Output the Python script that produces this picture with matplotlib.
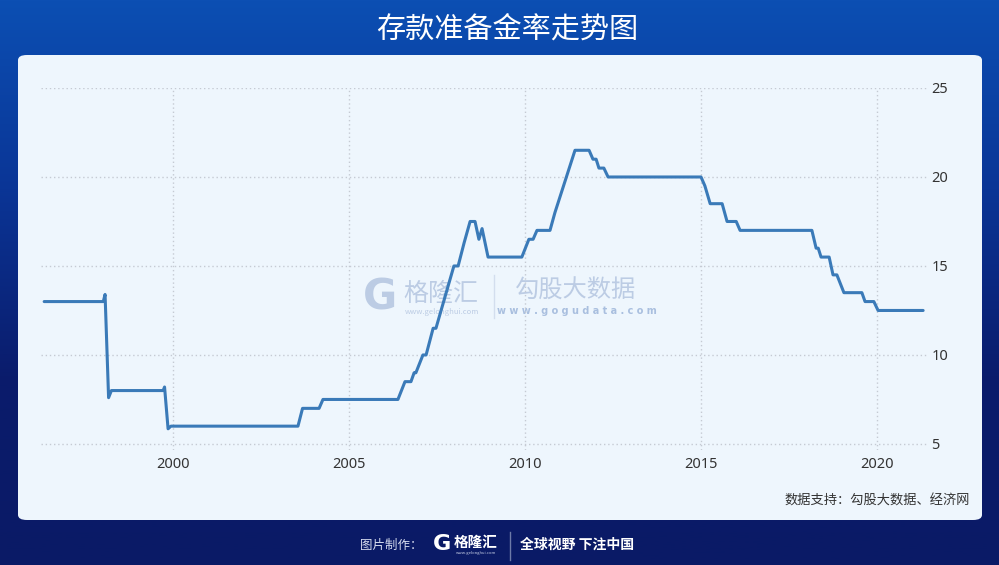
"""存款准备金率走势图"""

import numpy as np
import matplotlib
matplotlib.use("Agg")
import matplotlib.pyplot as plt
from matplotlib.patches import FancyBboxPatch
from matplotlib.colors import LinearSegmentedColormap

plt.rcParams['font.family'] = ['Noto Sans CJK SC', 'DejaVu Sans']

# vertices of the line (year, rate %)
years = [1996.34, 1998.02, 1998.07, 1998.17, 1998.25, 1999.72, 1999.76, 1999.86,
         1999.94, 2003.55, 2003.68, 2004.15, 2004.26, 2006.39, 2006.59, 2006.76,
         2006.85, 2006.90, 2007.10, 2007.19, 2007.39, 2007.47, 2007.98, 2008.10,
         2008.27, 2008.44, 2008.58, 2008.69, 2008.78, 2008.95, 2009.91, 2010.11,
         2010.23, 2010.34, 2010.71, 2010.85, 2011.42, 2011.82, 2011.93, 2012.02,
         2012.10, 2012.24, 2012.36, 2015.00, 2015.11, 2015.26, 2015.60, 2015.74,
         2016.00, 2016.11, 2018.15, 2018.27, 2018.33, 2018.41, 2018.64, 2018.75,
         2018.86, 2019.06, 2019.57, 2019.66, 2019.91, 2020.03, 2021.31]
rates = [13.0, 13.0, 13.4, 7.6, 8.0, 8.0, 8.2, 5.85,
         6.0, 6.0, 7.0, 7.0, 7.5, 7.5, 8.5, 8.5,
         9.0, 9.0, 10.0, 10.0, 11.5, 11.5, 15.0, 15.0,
         16.3, 17.5, 17.5, 16.5, 17.1, 15.5, 15.5, 16.5,
         16.5, 17.0, 17.0, 18.0, 21.5, 21.5, 21.0, 21.0,
         20.5, 20.5, 20.0, 20.0, 19.5, 18.5, 18.5, 17.5,
         17.5, 17.0, 17.0, 16.0, 16.0, 15.5, 15.5, 14.5,
         14.5, 13.5, 13.5, 13.0, 13.0, 12.5, 12.5]

x_ticks = [2000, 2005, 2010, 2015, 2020]
y_ticks = [5, 10, 15, 20, 25]

title = "存款准备金率走势图"
source = "数据支持：勾股大数据、经济网"

W, H = 999, 565


def fx(x):
    return x / W


def fy(y):
    return 1 - y / H


fig = plt.figure(figsize=(W / 100, H / 100), dpi=100)

# background gradient
bg = fig.add_axes([0, 0, 1, 1])
bg.set_axis_off()
cmap = LinearSegmentedColormap.from_list("bg", ["#0c4fb3", "#0a3596", "#0a1c6c", "#0a1a66"])
grad = np.linspace(0, 1, 256).reshape(-1, 1)
bg.imshow(grad, aspect="auto", cmap=cmap, extent=[0, 1, 0, 1])
bg.set_xlim(0, 1)
bg.set_ylim(0, 1)

# light panel
panel = FancyBboxPatch((fx(18), fy(520)), fx(982) - fx(18), fy(55) - fy(520),
                       boxstyle="round,pad=0,rounding_size=0.009",
                       transform=fig.transFigure, facecolor="#eef6fd",
                       edgecolor="none", zorder=1)
fig.patches.append(panel)

fig.text(fx(507), fy(30), title, color="white", fontsize=21, fontweight="medium",
         ha="center", va="center")

# watermark
wm = "#bccce4"
fig.text(fx(380), fy(297), "G", color=wm, fontsize=30, fontweight="heavy",
         family="DejaVu Sans", ha="center", va="center", zorder=2)
fig.text(fx(403), fy(294), "格隆汇", color=wm, fontsize=18, ha="left", va="center", zorder=2)
fig.text(fx(405), fy(312), "www.gelonghui.com", color=wm, fontsize=5.5,
         ha="left", va="center", zorder=2)
fig.add_artist(plt.Line2D([fx(494), fx(494)], [fy(275), fy(318)], color="#d3deee",
                          lw=1, transform=fig.transFigure, zorder=2))
fig.text(fx(515), fy(291), "勾股大数据", color=wm, fontsize=17.5, ha="left",
         va="center", zorder=2)
fig.text(fx(577), fy(311), "w w w . g o g u d a t a . c o m", color="#a9bfdf",
         fontsize=7, fontweight="bold", family="DejaVu Sans", ha="center",
         va="center", zorder=2)

ax = fig.add_axes([fx(41), fy(450), fx(927) - fx(41), fy(88) - fy(450)])
ax.set_facecolor("none")
ax.set_zorder(3)
ax.plot(years, rates, color="#3a7ab8", lw=2.2, solid_joinstyle="round",
        solid_capstyle="round")
ax.set_xlim(1996.25, 2021.42)
ax.set_ylim(4.66, 25)
ax.set_xticks(x_ticks)
ax.set_yticks(y_ticks)
ax.yaxis.tick_right()
ax.tick_params(length=0, labelsize=10.5, colors="#333333")
ax.tick_params(axis="x", pad=5)
ax.tick_params(axis="y", pad=3)
for lab in ax.get_xticklabels() + ax.get_yticklabels():
    lab.set_family(["Noto Sans", "DejaVu Sans"])
ax.grid(True, linestyle=(0, (1, 2)), color="#c5cad3", lw=1)
for s in ax.spines.values():
    s.set_visible(False)

fig.text(fx(970), fy(501), source, color="#333333", fontsize=9.5,
         ha="right", va="center")

# footer
fig.text(fx(360), fy(545), "图片制作：", color="#d6dcee", fontsize=9,
         ha="left", va="center")
fig.text(fx(442), fy(544), "G", color="white", fontsize=16, fontweight="heavy",
         family="DejaVu Sans", ha="center", va="center")
fig.text(fx(454), fy(542), "格隆汇", color="white", fontsize=10.5, fontweight="bold",
         ha="left", va="center")
fig.text(fx(456), fy(553), "www.gelonghui.com", color="#c8d0e6", fontsize=3,
         ha="left", va="center")
fig.add_artist(plt.Line2D([fx(510), fx(510)], [fy(532), fy(560)], color="#6d7aa8",
                          lw=1, transform=fig.transFigure))
fig.text(fx(520), fy(545), "全球视野 下注中国", color="white", fontsize=10,
         fontweight="bold", ha="left", va="center")

fig.savefig("out.png", dpi=100)
